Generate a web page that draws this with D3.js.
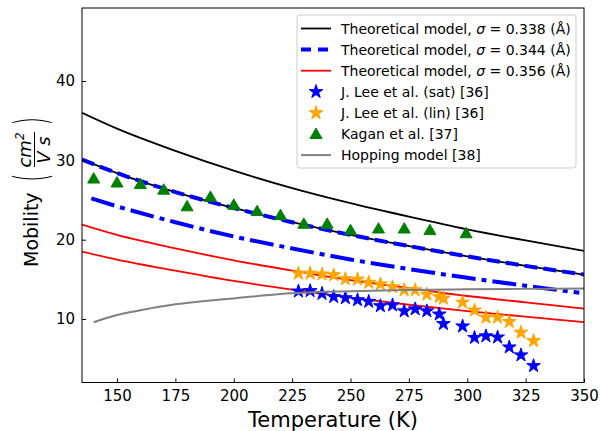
<!DOCTYPE html>
<html>
<head>
<meta charset="utf-8">
<script src="https://cdn.jsdelivr.net/npm/d3@7"></script>
<style>
  body { margin: 0; background: #fff; }
  svg { font-family: "DejaVu Sans", sans-serif; }
</style>
</head>
<body>
<svg width="600" height="431"></svg>
<script>
// temperatures for the model curves
const tCurve = [135, 150, 175, 200, 225, 250, 275, 300, 325, 350];
const black1 = [36.0, 34.0, 31.2, 28.7, 26.5, 24.6, 22.9, 21.3, 19.9, 18.6];
const black2 = [30.1, 28.4, 26.0, 24.0, 22.2, 20.6, 19.2, 17.9, 16.7, 15.6];
const blueDash = [30.1, 28.4, 26.0, 24.0, 22.2, 20.6, 19.2, 17.9, 16.7, 15.6];
const red1 = [21.9, 20.6, 18.9, 17.4, 16.1, 14.9, 13.9, 12.9, 12.1, 11.3];
const red2 = [18.5, 17.5, 16.1, 14.8, 13.7, 12.7, 11.8, 11.0, 10.3, 9.6];

const tDashDot = [139, 150, 175, 200, 225, 250, 275, 300, 325, 348];
const blueDashDot = [25.2, 24.2, 22.2, 20.4, 18.9, 17.5, 16.3, 15.2, 14.2, 13.3];

// hopping model
const tHop = [140, 150, 160, 175, 190, 200, 220, 250, 275, 300, 325, 350];
const hop = [9.6, 10.5, 11.1, 11.85, 12.35, 12.6, 13.15, 13.5, 13.65, 13.75, 13.8, 13.85];

// J. Lee et al. (both sets share temperatures)
const tLee = [227.7, 232.7, 237.8, 242.8, 247.8, 253, 257.8, 262.8, 268, 273, 277.7,
              282.7, 288, 289.8, 298, 303.1, 308, 313, 318, 323, 328.4];
const leeSat = [13.5, 13.55, 13.2, 12.8, 12.65, 12.4, 12.2, 11.65, 11.75, 11.0, 11.25,
                11.0, 10.6, 9.4, 9.1, 7.65, 7.85, 7.7, 6.45, 5.45, 4.1];
const leeLin = [15.75, 15.75, 15.65, 15.55, 15.05, 15.0, 14.6, 14.4, 14.05, 13.65, 13.65,
                13.1, 12.8, 12.6, 12.1, 11.1, 10.2, 10.2, 9.65, 8.3, 7.25];

// Kagan et al.
const tKagan = [140, 150, 160, 170, 180, 190, 200, 210, 220, 230, 240, 250, 262, 273, 284, 299.5];
const kagan = [27.7, 27.2, 27.0, 26.3, 24.2, 25.4, 24.4, 23.6, 23.1, 22.0, 22.0, 21.2, 21.4, 21.4, 21.2, 20.8];

const xTicks = [150, 175, 200, 225, 250, 275, 300, 325, 350];
const yTicks = [10, 20, 30, 40];

const legendLabels = [
  "Theoretical model, σ = 0.338 (Å)",
  "Theoretical model, σ = 0.344 (Å)",
  "Theoretical model, σ = 0.356 (Å)",
  "J. Lee et al. (sat) [36]",
  "J. Lee et al. (lin) [36]",
  "Kagan et al. [37]",
  "Hopping model [38]"
];

const svg = d3.select("svg");
const pL = 82, pR = 584, pT = 8, pB = 382.5;

const x = d3.scaleLinear().domain([135, 350]).range([pL, pR]);
const y = d3.scaleLinear().domain([2, 49.2]).range([pB, pT]);

svg.append("defs").append("clipPath")
   .attr("id", "plot")
   .append("rect")
   .attr("x", pL).attr("y", pT)
   .attr("width", pR - pL).attr("height", pB - pT);

const plot = svg.append("g").attr("clip-path", "url(#plot)");

const line = d3.line()
   .x(d => x(d[0]))
   .y(d => y(d[1]))
   .curve(d3.curveMonotoneX);

function curve(ts, vs, color, width, dash) {
  plot.append("path")
     .datum(ts.map((t, i) => [t, vs[i]]))
     .attr("d", line)
     .attr("fill", "none")
     .attr("stroke", color)
     .attr("stroke-width", width)
     .attr("stroke-dasharray", dash);
}

// model curves
curve(tCurve, black1, "#000", 1.8, null);
curve(tCurve, black2, "#000", 1.8, null);
curve(tCurve, blueDash, "#0000ff", 4, "13,6");
curve(tDashDot, blueDashDot, "#0000ff", 4, "24,6,5,6");
curve(tCurve, red1, "#ff0000", 1.8, null);
curve(tCurve, red2, "#ff0000", 1.8, null);

// markers
const star = d3.symbol().type(d3.symbolStar).size(58);
const tri = d3.symbol().type(d3.symbolTriangle).size(62);

function markers(ts, vs, shape, color, dy) {
  plot.append("g").selectAll("path")
     .data(ts.map((t, i) => [t, vs[i]]))
     .enter().append("path")
     .attr("d", shape)
     .attr("transform", d => `translate(${x(d[0])},${y(d[1]) + dy})`)
     .attr("fill", color)
     .attr("stroke", color)
     .attr("stroke-width", 1)
     .attr("stroke-linejoin", "round");
}

markers(tLee, leeSat, star, "#0000ff", 0);
markers(tLee, leeLin, star, "#ffa500", 0);
markers(tKagan, kagan, tri, "#008000", 1);

curve(tHop, hop, "#808080", 2, null);

// axes box
svg.append("rect")
   .attr("x", pL).attr("y", pT)
   .attr("width", pR - pL).attr("height", pB - pT)
   .attr("fill", "none")
   .attr("stroke", "#000")
   .attr("stroke-width", 1);

// ticks point inward
const xAxis = d3.axisBottom(x).tickValues(xTicks).tickSize(-4).tickPadding(8);
const gx = svg.append("g").attr("transform", `translate(0,${pB})`).call(xAxis);
const yAxis = d3.axisLeft(y).tickValues(yTicks).tickSize(-4).tickPadding(7);
const gy = svg.append("g").attr("transform", `translate(${pL},0)`).call(yAxis);

[gx, gy].forEach(g => {
  g.select(".domain").remove();
  g.selectAll("text")
   .attr("font-size", "15px")
   .attr("font-family", "DejaVu Sans, sans-serif")
   .attr("fill", "#000");
  g.selectAll("line").attr("stroke", "#000");
});

svg.append("text")
   .attr("x", (pL + pR) / 2)
   .attr("y", 427)
   .attr("text-anchor", "middle")
   .attr("font-size", "21px")
   .text("Temperature (K)");

// y label: Mobility (cm^2 / V s)
const yl = svg.append("g").attr("transform", "translate(38,267) rotate(-90)");
yl.append("text")
   .attr("x", 0).attr("y", 0)
   .attr("font-size", "19px")
   .text("Mobility");
yl.append("text")
   .attr("transform", "translate(85,8) scale(0.5,1)")
   .attr("font-size", "44px")
   .attr("font-weight", "200")
   .text("(");
yl.append("text")
   .attr("transform", "translate(150,8) scale(0.5,1)")
   .attr("font-size", "44px")
   .attr("font-weight", "200")
   .attr("text-anchor", "end")
   .text(")");
const num = yl.append("text")
   .attr("x", 117).attr("y", -7)
   .attr("text-anchor", "middle")
   .attr("font-size", "18px")
   .attr("font-style", "italic");
num.append("tspan").text("cm");
num.append("tspan").attr("font-size", "12px").attr("dy", -7).text("2");
yl.append("line")
   .attr("x1", 100).attr("x2", 135)
   .attr("y1", -3.5).attr("y2", -3.5)
   .attr("stroke", "#000").attr("stroke-width", 1);
yl.append("text")
   .attr("x", 117).attr("y", 12)
   .attr("text-anchor", "middle")
   .attr("font-size", "18px")
   .attr("font-style", "italic")
   .text("V s");

// legend
const lg = svg.append("g");
lg.append("rect")
   .attr("x", 297).attr("y", 15)
   .attr("width", 279).attr("height", 153)
   .attr("rx", 3)
   .attr("fill", "#fff").attr("fill-opacity", 0.8)
   .attr("stroke", "#ccc");

const rowY = i => 28.5 + i * 21.1;
const handles = [
  { kind: "line", color: "#000", w: 1.8, dash: null },
  { kind: "line", color: "#0000ff", w: 4, dash: "10,7" },
  { kind: "line", color: "#ff0000", w: 1.8, dash: null },
  { kind: "star", color: "#0000ff" },
  { kind: "star", color: "#ffa500" },
  { kind: "tri", color: "#008000" },
  { kind: "line", color: "#808080", w: 2, dash: null }
];

handles.forEach((h, i) => {
  if (h.kind === "line") {
    lg.append("line")
       .attr("x1", 301).attr("x2", 331)
       .attr("y1", rowY(i)).attr("y2", rowY(i))
       .attr("stroke", h.color)
       .attr("stroke-width", h.w)
       .attr("stroke-dasharray", h.dash);
  } else {
    lg.append("path")
       .attr("d", h.kind === "star" ? star : tri)
       .attr("transform", `translate(316,${rowY(i) + (h.kind === "tri" ? 1 : 0)})`)
       .attr("fill", h.color)
       .attr("stroke", h.color)
       .attr("stroke-linejoin", "round");
  }
  const t = lg.append("text")
     .attr("x", 341).attr("y", rowY(i) + 5)
     .attr("font-size", "14px");
  if (i < 3) {
    const parts = legendLabels[i].split("σ");
    t.append("tspan").text(parts[0]);
    t.append("tspan").attr("font-style", "italic").text("σ");
    t.append("tspan").text(parts[1]);
  } else {
    t.text(legendLabels[i]);
  }
});
</script>
</body>
</html>
